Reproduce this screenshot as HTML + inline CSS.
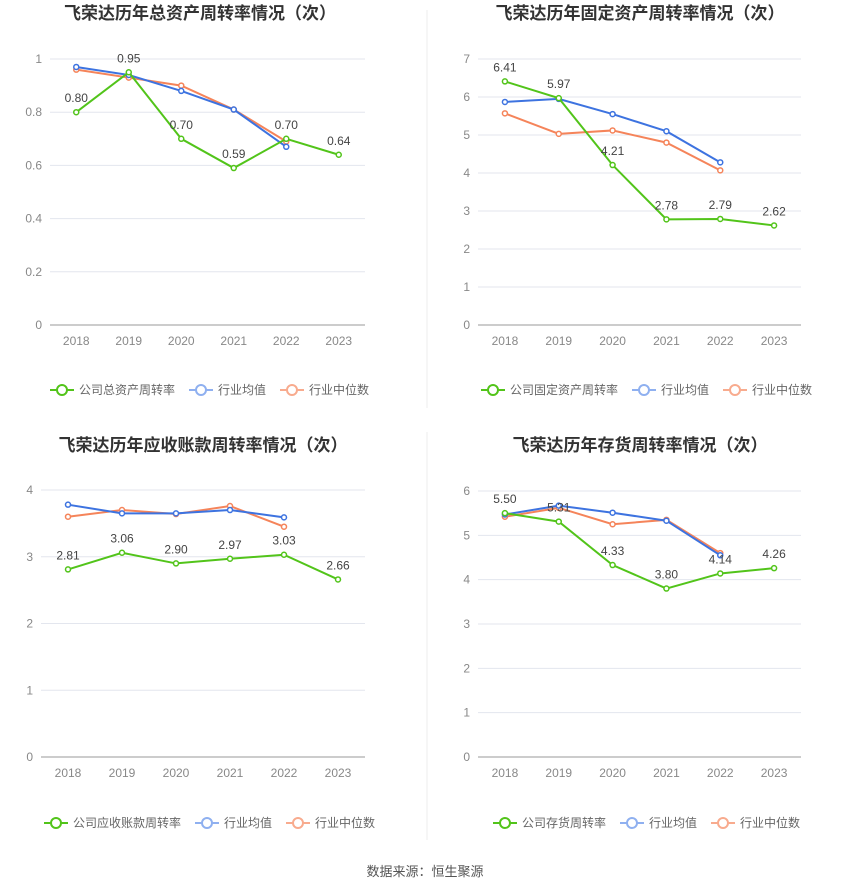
<!DOCTYPE html>
<html><head><meta charset="utf-8">
<style>
body{margin:0;background:#fff;width:850px;height:891px;overflow:hidden;font-family:"Liberation Sans","Noto Sans CJK SC",sans-serif;}
svg text{font-family:"Liberation Sans","Noto Sans CJK SC",sans-serif;}
</style></head>
<body>
<svg id="root" width="850" height="891">
<line x1="427" y1="10" x2="427" y2="408" stroke="#eee"/>
<line x1="427" y1="432" x2="427" y2="840" stroke="#eee"/>
<text x="425" y="876" text-anchor="middle" font-size="13" fill="#555">数据来源：恒生聚源</text>
</svg>
<script>
const years=["2018","2019","2020","2021","2022","2023"];
const c1Company=[0.80,0.95,0.70,0.59,0.70,0.64];
const c1Avg=[0.97,0.94,0.88,0.81,0.67];
const c1Med=[0.96,0.93,0.90,0.81,0.69];
const c1Ticks=[0,0.2,0.4,0.6,0.8,1];
const c2Company=[6.41,5.97,4.21,2.78,2.79,2.62];
const c2Avg=[5.87,5.95,5.55,5.10,4.28];
const c2Med=[5.57,5.03,5.12,4.80,4.07];
const c2Ticks=[0,1,2,3,4,5,6,7];
const c3Company=[2.81,3.06,2.90,2.97,3.03,2.66];
const c3Avg=[3.78,3.65,3.65,3.70,3.59];
const c3Med=[3.60,3.70,3.64,3.76,3.45];
const c3Ticks=[0,1,2,3,4];
const c4Company=[5.50,5.31,4.33,3.80,4.14,4.26];
const c4Avg=[5.47,5.67,5.51,5.33,4.55];
const c4Med=[5.42,5.62,5.25,5.35,4.60];
const c4Ticks=[0,1,2,3,4,5,6];

const NS="http://www.w3.org/2000/svg";
const root=document.getElementById('root');
function mk(tag,attrs,parent,txt){const e=document.createElementNS(NS,tag);for(const k in attrs)e.setAttribute(k,attrs[k]);if(txt!==undefined)e.textContent=txt;(parent||root).appendChild(e);return e;}

function chart(o){
  const g=mk('g',{});
  
  
  const max=o.ticks[o.ticks.length-1];
  const y=v=>o.y0-(v/max)*(o.y0-o.y1);
  const step=(o.x1-o.x0)/years.length;
  const x=i=>o.x0+step*(i+0.5);
  const t=mk('text',{x:o.tx,y:o.ty,'text-anchor':'middle','font-size':17,'font-weight':'bold',fill:'#333'},g,o.title);
  
  
  o.ticks.forEach(v=>{
    const gl=mk('line',{x1:o.x0,x2:o.x1,y1:y(v),y2:y(v),stroke:v===0?'#999':'#e3e6ee'},g);
    
    
    const tl=mk('text',{x:o.x0-8,y:y(v)+4,'text-anchor':'end','font-size':12,fill:'#888'},g,String(v));
    
    
  });
  years.forEach((yr,i)=>{
    const xl=mk('text',{x:x(i),y:o.y0+20,'text-anchor':'middle','font-size':12,fill:'#888'},g,yr);
    
    
  });
  const series=[[o.med,'#f5845a','median-line'],[o.avg,'#3d73e0','average-line'],[o.comp,'#52c41a','company-line']];
  series.forEach(([d,c,n])=>{
    const pl=mk('polyline',{points:d.map((v,i)=>x(i)+','+y(v)).join(' '),fill:'none',stroke:c,'stroke-width':2},g);
    
    
    d.forEach((v,i)=>{
      const p=mk('circle',{cx:x(i),cy:y(v),r:2.5,fill:'#fff',stroke:c,'stroke-width':1.5},g);
      
      
    });
  });
  o.comp.forEach((v,i)=>{
    const l=mk('text',{x:x(i),y:y(v)-10,'text-anchor':'middle','font-size':12,fill:'#444'},g,v.toFixed(2));
    
    
  });
  const items=[[o.leg1,'#52c41a'],['行业均值','#8fb0f0'],['行业中位数','#f8ab8e']];
  let lx=o.lx;
  items.forEach(([txt,c],k)=>{
    const lg=mk('g',{},g);
    
    
    mk('line',{x1:lx,x2:lx+24,y1:o.ly,y2:o.ly,stroke:c,'stroke-width':2},lg);
    mk('circle',{cx:lx+12,cy:o.ly,r:5,fill:'#fff',stroke:c,'stroke-width':2},lg);
    mk('text',{x:lx+29,y:o.ly+4,'font-size':12,fill:'#666'},lg,txt);
    lx+=29+txt.length*12+14;
  });
}
chart({name:'total-asset-turnover-chart',title:'飞荣达历年总资产周转率情况（次）',tx:200,ty:19,x0:50,x1:365,y0:325,y1:59,ticks:c1Ticks,comp:c1Company,avg:c1Avg,med:c1Med,leg1:'公司总资产周转率',lx:50,ly:390});
chart({name:'fixed-asset-turnover-chart',title:'飞荣达历年固定资产周转率情况（次）',tx:640,ty:19,x0:478,x1:801,y0:325,y1:59,ticks:c2Ticks,comp:c2Company,avg:c2Avg,med:c2Med,leg1:'公司固定资产周转率',lx:481,ly:390});
chart({name:'receivable-turnover-chart',title:'飞荣达历年应收账款周转率情况（次）',tx:203,ty:451,x0:41,x1:365,y0:757,y1:490,ticks:c3Ticks,comp:c3Company,avg:c3Avg,med:c3Med,leg1:'公司应收账款周转率',lx:44,ly:823});
chart({name:'inventory-turnover-chart',title:'飞荣达历年存货周转率情况（次）',tx:640,ty:451,x0:478,x1:801,y0:757,y1:491,ticks:c4Ticks,comp:c4Company,avg:c4Avg,med:c4Med,leg1:'公司存货周转率',lx:493,ly:823});
</script>
</body></html>
